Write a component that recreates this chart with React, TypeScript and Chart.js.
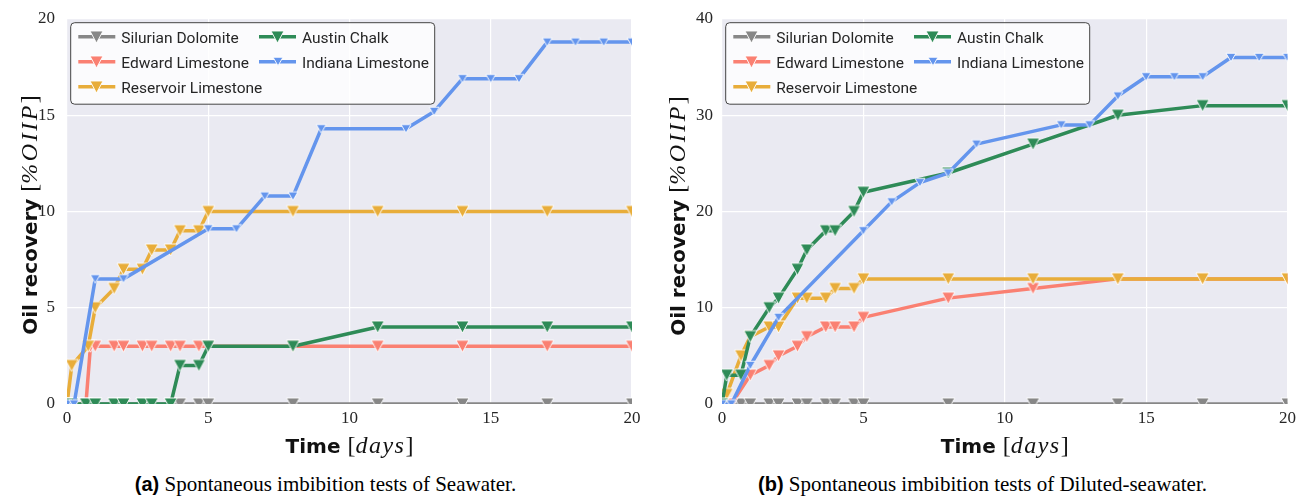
import React, { useEffect, useRef } from 'react';
import { Chart, registerables } from 'chart.js';

Chart.register(...registerables);

// ---------------- Data ----------------
const xTicks = [0, 5, 10, 15, 20];
const yTicksA = [0, 5, 10, 15, 20];
const yTicksB = [0, 10, 20, 30, 40];

const nameSilurian = 'Silurian Dolomite';
const nameEdward = 'Edward Limestone';
const nameReservoir = 'Reservoir Limestone';
const nameAustin = 'Austin Chalk';
const nameIndiana = 'Indiana Limestone';

// (a) Seawater
const timeA = [0, 0.17, 0.67, 1, 1.67, 2, 2.67, 3, 3.67, 4, 4.67, 5, 8, 11, 14, 17, 20];
const silurianA = [0, 0, 0, 0, 0, 0, 0, 0, 0, 0, 0, 0, 0, 0, 0, 0, 0];
const timeEdwardA = [0, 0.17, 0.67, 0.83, 1, 1.67, 2, 2.67, 3, 3.67, 4, 4.67, 5, 8, 11, 14, 17, 20];
const edwardA = [0, 0, 0, 3, 3, 3, 3, 3, 3, 3, 3, 3, 3, 3, 3, 3, 3, 3];
const timeReservoirA = [0, 0.17, 0.75, 1, 1.67, 2, 2.67, 3, 3.67, 4, 4.67, 5, 8, 11, 14, 17, 20];
const reservoirA = [0, 2, 3, 5, 6, 7, 7, 8, 8, 9, 9, 10, 10, 10, 10, 10, 10];
const austinA = [0, 0, 0, 0, 0, 0, 0, 0, 0, 2, 2, 3, 3, 4, 4, 4, 4];
const timeIndianaA = [0, 0.25, 1, 2, 5, 6, 7, 8, 9, 12, 13, 14, 15, 16, 17, 18, 19, 20];
const indianaA = [0, 0, 6.5, 6.5, 9.1, 9.1, 10.8, 10.8, 14.3, 14.3, 15.2, 16.9, 16.9, 16.9, 18.8, 18.8, 18.8, 18.8];

// (b) Diluted-seawater
const timeB = [0, 0.17, 0.67, 1, 1.67, 2, 2.67, 3, 3.67, 4, 4.67, 5, 8, 11, 14, 17, 20];
const silurianB = [0, 0, 0, 0, 0, 0, 0, 0, 0, 0, 0, 0, 0, 0, 0, 0, 0];
const timeEdwardB = [0, 0.33, 1, 1.67, 2, 2.67, 3, 3.67, 4, 4.67, 5, 8, 11, 14, 17, 20];
const edwardB = [0, 0, 3, 4, 5, 6, 7, 8, 8, 8, 9, 11, 12, 13, 13, 13];
const reservoirB = [0, 1, 5, 7, 8, 8, 11, 11, 11, 12, 12, 13, 13, 13, 13, 13, 13];
const austinB = [0, 3, 3, 7, 10, 11, 14, 16, 18, 18, 20, 22, 24, 27, 30, 31, 31];
const timeIndianaB = [0, 0.33, 1, 2, 5, 6, 7, 8, 9, 12, 13, 14, 15, 16, 17, 18, 19, 20];
const indianaB = [0, 0, 4, 9, 18, 21, 23, 24, 27, 29, 29, 32, 34, 34, 34, 36, 36, 36];

const captionA = 'Spontaneous imbibition tests of Seawater.';
const captionB = 'Spontaneous imbibition tests of Diluted-seawater.';

// ---------------- Styles ----------------
const colorSilurian = '#878787';
const colorEdward = '#FA8072';
const colorReservoir = '#E8AD3A';
const colorAustin = '#2E8B57';
const colorIndiana = '#6495ED';

const BG = '#EAEAF2';
const TEXT = '#262626';

interface SeriesDef {
  name: string;
  color: string;
  t: number[];
  v: number[];
  small: boolean;
  order: number;
}

function makeMarker(color: string, w: number, h: number): HTMLCanvasElement {
  const p = 2;
  const c = document.createElement('canvas');
  c.width = Math.round(w + 2 * p);
  c.height = Math.round(h + 2 * p);
  const ox = (c.width - w) / 2;
  const oy = (c.height - h) / 2;
  const ctx = c.getContext('2d')!;
  ctx.beginPath();
  ctx.moveTo(ox, oy);
  ctx.lineTo(ox + w, oy);
  ctx.lineTo(ox + w / 2, oy + h);
  ctx.closePath();
  ctx.fillStyle = color;
  ctx.fill();
  ctx.strokeStyle = 'rgba(255,255,255,0.9)';
  ctx.lineWidth = 1;
  ctx.stroke();
  return c;
}

type Seg = { text: string; font: string; sp?: number };

function segW(ctx: CanvasRenderingContext2D, s: Seg) {
  ctx.font = s.font;
  (ctx as any).letterSpacing = (s.sp || 0) + 'px';
  const w = ctx.measureText(s.text).width;
  (ctx as any).letterSpacing = '0px';
  return w;
}

function drawSegs(ctx: CanvasRenderingContext2D, segs: Seg[], cx: number, baseline: number) {
  const total = segs.reduce((a, s) => a + segW(ctx, s), 0);
  let x = cx - total / 2;
  ctx.textAlign = 'left';
  ctx.textBaseline = 'alphabetic';
  for (const s of segs) {
    const w = segW(ctx, s);
    ctx.font = s.font;
    (ctx as any).letterSpacing = (s.sp || 0) + 'px';
    ctx.fillText(s.text, x, baseline);
    (ctx as any).letterSpacing = '0px';
    x += w;
  }
}

const xTitleSegs: Seg[] = [
  { text: 'Time ', font: 'bold 20px "DejaVu Sans"' },
  { text: '[', font: '24px "Liberation Serif"' },
  { text: 'days', font: 'italic 24px "Liberation Serif"', sp: 1.5 },
  { text: ']', font: '24px "Liberation Serif"' },
];
const yTitleSegs: Seg[] = [
  { text: 'Oil recovery ', font: 'bold 20px "DejaVu Sans"' },
  { text: '[', font: '24px "Liberation Serif"' },
  { text: '%OIIP', font: 'italic 24px "Liberation Serif"', sp: 2.5 },
  { text: ']', font: '24px "Liberation Serif"' },
];

interface PanelProps {
  left: number;
  width: number;
  yAxisWidth: number;
  rightPad: number;
  yMax: number;
  yTicks: number[];
  yTickPad: number;
  series: SeriesDef[];
  yTitleCenter: number;
}

const PANEL_H = 470;
const CHART_TOP = 19;
const X_AXIS_H = 66;

function Panel(props: PanelProps) {
  const ref = useRef<HTMLCanvasElement>(null);
  useEffect(() => {
    const canvas = ref.current!;
    const markers = props.series.map((s) =>
      s.small ? makeMarker(s.color, 10, 8.5) : makeMarker(s.color, 13, 12)
    );

    const bgPlugin = {
      id: 'bg',
      beforeDraw(chart: any) {
        const { ctx, chartArea: a } = chart;
        ctx.save();
        ctx.fillStyle = BG;
        ctx.fillRect(a.left, a.top, a.right - a.left, a.bottom - a.top);
        ctx.restore();
      },
    };

    const legendOrder = [0, 1, 2, 3, 4]; // column-major order of series
    const decoPlugin = {
      id: 'deco',
      afterDraw(chart: any) {
        const { ctx, chartArea: a } = chart;
        ctx.save();
        // legend box
        const bx = a.left + 3.7;
        const by = a.top + 3.7;
        const bw = 364;
        const bh = 81.5;
        const r = 4;
        ctx.beginPath();
        ctx.moveTo(bx + r, by);
        ctx.lineTo(bx + bw - r, by);
        ctx.arcTo(bx + bw, by, bx + bw, by + r, r);
        ctx.lineTo(bx + bw, by + bh - r);
        ctx.arcTo(bx + bw, by + bh, bx + bw - r, by + bh, r);
        ctx.lineTo(bx + r, by + bh);
        ctx.arcTo(bx, by + bh, bx, by + bh - r, r);
        ctx.lineTo(bx, by + r);
        ctx.arcTo(bx, by, bx + r, by, r);
        ctx.closePath();
        ctx.fillStyle = 'rgba(255,255,255,0.8)';
        ctx.fill();
        ctx.strokeStyle = '#444444';
        ctx.lineWidth = 1;
        ctx.stroke();

        legendOrder.forEach((idx, k) => {
          const s = props.series[idx];
          const col = k < 3 ? 0 : 1;
          const row = k < 3 ? k : k - 3;
          const hx0 = a.left + (col === 0 ? 11.3 : 192);
          const hx1 = hx0 + 37;
          const ry = a.top + 17.7 + row * 25;
          ctx.strokeStyle = s.color;
          ctx.lineWidth = 3.5;
          ctx.lineCap = 'butt';
          ctx.beginPath();
          ctx.moveTo(hx0, ry);
          ctx.lineTo(hx1, ry);
          ctx.stroke();
          const m = markers[idx];
          ctx.drawImage(m, Math.round((hx0 + hx1) / 2 - m.width / 2), Math.round(ry - m.height / 2));
          ctx.fillStyle = TEXT;
          ctx.font = '15.5px Roboto';
          ctx.textAlign = 'left';
          ctx.textBaseline = 'alphabetic';
          ctx.fillText(s.name, hx1 + 6, ry + 6);
        });

        // axis titles
        ctx.fillStyle = '#111111';
        drawSegs(ctx, xTitleSegs, (a.left + a.right) / 2, 453);
        ctx.save();
        ctx.translate(37, props.yTitleCenter);
        ctx.rotate(-Math.PI / 2);
        drawSegs(ctx, yTitleSegs, 0, 0);
        ctx.restore();
        ctx.restore();
      },
    };

    const chart = new Chart(canvas, {
      type: 'line',
      data: {
        datasets: props.series.map((s, i) => ({
          label: s.name,
          data: s.t.map((x, j) => ({ x, y: s.v[j] })),
          borderColor: s.color,
          backgroundColor: s.color,
          borderWidth: 3.5,
          borderJoinStyle: 'round',
          borderCapStyle: 'butt',
          pointStyle: markers[i],
          pointRadius: 6,
          pointHoverRadius: 6,
          tension: 0,
          fill: false,
          order: s.order,
        })),
      },
      options: {
        responsive: false,
        maintainAspectRatio: false,
        animation: false,
        devicePixelRatio: 1,
        events: [],
        layout: { padding: { top: CHART_TOP, right: props.rightPad, left: 0, bottom: 0 } },
        plugins: { legend: { display: false }, tooltip: { enabled: false }, title: { display: false } },
        scales: {
          x: {
            type: 'linear',
            min: 0,
            max: 20,
            afterBuildTicks: (s: any) => {
              s.ticks = xTicks.map((v) => ({ value: v }));
            },
            afterFit: (s: any) => {
              s.height = X_AXIS_H;
            },
            ticks: {
              color: TEXT,
              font: { family: 'Liberation Serif', size: 17 },
              padding: 4,
              maxRotation: 0,
            },
            grid: { color: '#ffffff', lineWidth: 1.2, drawTicks: false },
            border: { display: false },
          },
          y: {
            type: 'linear',
            min: 0,
            max: props.yMax,
            afterBuildTicks: (s: any) => {
              s.ticks = props.yTicks.map((v) => ({ value: v }));
            },
            afterFit: (s: any) => {
              s.width = props.yAxisWidth;
            },
            ticks: {
              color: TEXT,
              font: { family: 'Liberation Serif', size: 17, lineHeight: 0.8 },
              padding: props.yTickPad,
            },
            grid: { color: '#ffffff', lineWidth: 1.2, drawTicks: false },
            border: { display: false },
          },
        },
      } as any,
      plugins: [bgPlugin, decoPlugin],
    });
    return () => chart.destroy();
  }, []);

  return (
    <canvas
      ref={ref}
      width={props.width}
      height={PANEL_H}
      style={{ position: 'absolute', left: props.left, top: 0, width: props.width, height: PANEL_H, display: 'block' }}
    />
  );
}

function buildSeries(
  tAll: number[],
  sil: number[],
  tEd: number[],
  ed: number[],
  tRes: number[],
  res: number[],
  aus: number[],
  tInd: number[],
  ind: number[]
): SeriesDef[] {
  return [
    { name: nameSilurian, color: colorSilurian, t: tAll, v: sil, small: false, order: 5 },
    { name: nameEdward, color: colorEdward, t: tEd, v: ed, small: false, order: 4 },
    { name: nameReservoir, color: colorReservoir, t: tRes, v: res, small: false, order: 3 },
    { name: nameAustin, color: colorAustin, t: tAll, v: aus, small: false, order: 2 },
    { name: nameIndiana, color: colorIndiana, t: tInd, v: ind, small: true, order: 1 },
  ];
}

const seriesA = buildSeries(timeA, silurianA, timeEdwardA, edwardA, timeReservoirA, reservoirA, austinA, timeIndianaA, indianaA);
const seriesB = buildSeries(timeB, silurianB, timeEdwardB, edwardB, timeB, reservoirB, austinB, timeIndianaB, indianaB);

function Caption({ center, tag, text }: { center: number; tag: string; text: string }) {
  return (
    <div
      style={{
        position: 'absolute',
        left: center - 400,
        width: 800,
        top: 474,
        textAlign: 'center',
        fontFamily: '"Liberation Serif"',
        fontSize: 21,
        lineHeight: '21px',
        color: '#000',
        whiteSpace: 'nowrap',
      }}
    >
      <span style={{ fontFamily: '"Liberation Sans"', fontWeight: 'bold', fontSize: 20 }}>{tag}</span> {text}
    </div>
  );
}

export default function App() {
  return (
    <div
      style={{
        position: 'fixed',
        left: 0,
        top: 0,
        width: 1296,
        height: 497,
        background: '#ffffff',
        overflow: 'hidden',
      }}
    >
      <Panel left={0} width={648} yAxisWidth={67} rightPad={16} yMax={20} yTicks={yTicksA} yTickPad={12} series={seriesA} yTitleCenter={215} />
      <Panel left={648} width={652} yAxisWidth={74} rightPad={9} yMax={40} yTicks={yTicksB} yTickPad={9} series={seriesB} yTitleCenter={216} />
      <Caption center={325.5} tag="(a)" text={captionA} />
      <Caption center={982.5} tag="(b)" text={captionB} />
    </div>
  );
}
